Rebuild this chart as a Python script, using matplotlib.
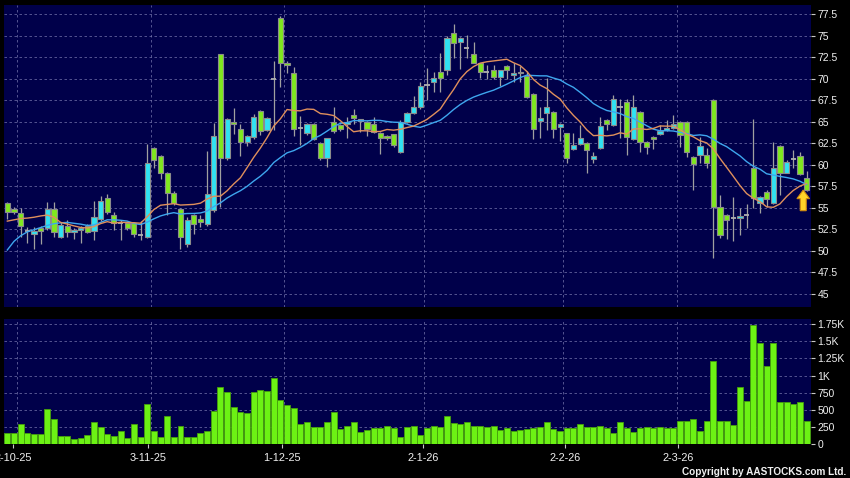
import matplotlib
matplotlib.use('Agg')
import matplotlib.pyplot as plt
import numpy as np
import pandas as pd
from matplotlib.patches import Polygon

plt.rcParams['font.family'] = ['Liberation Sans', 'DejaVu Sans']

# ---------------- data ----------------
opens = [55.6, 54.9, 54.35, 52.3, 51.95, 52.7, 52.6, 54.9, 51.6, 52.9,
         52.15, 52.4, 52.9, 52.35, 53.65, 56.1, 54.15, 53.2, 53.2, 53.2,
         51.8, 51.6, 61.9, 61.05, 59.0, 56.7, 54.9, 50.8, 54.15, 53.65,
         53.1, 54.74, 72.82, 60.74, 65.0, 64.1, 62.6, 63.25, 66.27, 64.03,
         70.0, 77.0, 71.84, 70.6, 64.3, 63.64, 64.69, 62.55, 60.74, 65.0,
         64.6, 64.7, 65.73, 65.11, 65.0, 64.72, 63.72, 63.37, 63.56, 61.5,
         65.0, 65.97, 66.66, 69.25, 69.57, 70.73, 71.0, 75.26, 74.21, 73.5,
         72.82, 71.77, 70.73, 71.0, 70.22, 71.5, 70.41, 70.6, 70.33, 68.21,
         65.11, 66.04, 66.1, 64.34, 63.64, 61.79, 62.37, 62.55, 60.66, 61.9,
         65.19, 64.6, 66.73, 67.24, 62.95, 66.1, 62.63, 63.25, 63.53, 64.03,
         64.22, 65.0, 65.0, 60.85, 61.12, 61.12, 67.5, 55.12, 54.15, 53.84,
         53.77, 54.2, 59.57, 55.5, 56.86, 55.5, 62.17, 59.07, 60.66, 61.0,
         58.42]
highs = [55.7, 55.1, 55.0, 52.8, 52.8, 52.9, 55.7, 55.7, 53.4, 53.6,
         52.7, 52.9, 53.1, 55.8, 56.35, 56.65, 54.5, 53.6, 53.3, 53.3,
         53.5, 62.4, 62.1, 61.1, 59.1, 56.9, 55.0, 53.9, 54.3, 54.15,
         61.6, 64.8, 72.9, 65.4, 66.55, 64.7, 63.4, 65.9, 66.4, 65.6,
         72.0, 77.3, 72.0, 71.3, 65.65, 64.8, 64.8, 62.6, 63.1, 66.73,
         64.7, 65.6, 66.43, 65.3, 65.1, 65.5, 63.8, 63.4, 63.6, 65.2,
         66.1, 67.98, 69.64, 71.2, 70.8, 72.94, 74.9, 76.34, 74.8, 75.06,
         74.3, 71.8, 71.58, 71.6, 71.0, 71.6, 71.77, 71.5, 70.9, 68.3,
         66.73, 70.1, 66.2, 64.8, 63.7, 63.64, 64.6, 62.6, 61.5, 65.57,
         65.3, 68.1, 67.6, 67.6, 68.1, 66.2, 62.7, 63.3, 64.6, 65.19,
         65.77, 65.1, 65.1, 61.0, 63.25, 61.9, 67.6, 56.48, 54.3, 56.28,
         54.93, 55.4, 65.3, 56.4, 57.1, 62.67, 62.3, 60.5, 61.7, 61.5,
         59.3]
lows = [53.7, 54.3, 51.6, 50.9, 50.2, 50.8, 52.4, 51.55, 51.5, 51.6,
        51.4, 50.9, 52.05, 51.2, 53.5, 54.3, 52.4, 51.3, 52.4, 51.55,
        51.3, 51.5, 59.6, 58.3, 54.2, 55.3, 50.2, 50.4, 51.95, 52.8,
        52.9, 54.5, 55.1, 60.6, 63.55, 61.05, 62.2, 63.0, 63.4, 63.9,
        64.0, 69.06, 70.7, 63.3, 62.28, 63.5, 62.9, 60.6, 59.77, 63.7,
        63.9, 63.06, 64.7, 63.83, 63.3, 63.7, 61.3, 62.9, 62.1, 61.4,
        64.9, 65.9, 66.5, 67.5, 68.48, 68.5, 70.4, 72.35, 71.08, 72.35,
        71.8, 70.03, 69.92, 70.0, 69.14, 70.0, 69.64, 69.64, 67.8, 62.95,
        63.06, 64.03, 63.06, 62.7, 60.15, 61.7, 62.3, 59.0, 60.2, 61.8,
        64.0, 64.5, 63.06, 61.1, 62.9, 61.5, 61.3, 61.8, 63.4, 63.9,
        64.1, 62.1, 60.85, 57.06, 60.15, 59.57, 49.13, 51.45, 51.33, 51.1,
        51.83, 52.6, 54.93, 54.35, 55.1, 55.4, 56.48, 59.0, 59.57, 58.8,
        57.0]
closes = [54.5, 54.5, 52.9, 52.3, 52.3, 52.3, 54.9, 52.2, 53.0, 52.15,
          52.4, 52.7, 52.2, 53.95, 55.8, 54.55, 53.2, 53.2, 52.7, 51.95,
          51.8, 60.15, 60.6, 59.0, 56.7, 55.5, 51.55, 53.57, 53.1, 53.4,
          56.6, 63.33, 60.74, 65.27, 64.7, 62.6, 63.33, 65.57, 63.9, 65.45,
          70.0, 71.77, 71.54, 64.1, 64.3, 64.69, 62.95, 60.74, 63.06, 63.95,
          64.1, 65.0, 65.39, 65.27, 64.2, 63.83, 63.06, 63.06, 62.28, 65.0,
          66.04, 66.73, 69.14, 69.25, 70.03, 70.03, 74.68, 74.1, 74.68, 73.5,
          71.84, 70.73, 70.73, 70.22, 71.0, 71.0, 70.68, 70.8, 67.82, 64.11,
          65.39, 66.66, 64.1, 64.72, 60.74, 62.25, 63.06, 61.7, 61.04, 64.53,
          64.69, 67.6, 66.73, 63.2, 66.66, 62.67, 62.08, 62.95, 63.91, 64.3,
          64.69, 63.5, 61.53, 60.08, 62.17, 60.15, 55.12, 51.83, 53.57, 53.84,
          54.04, 54.2, 56.1, 56.28, 55.98, 59.57, 59.07, 60.35, 60.66, 58.9,
          57.06]
volumes = [156, 166, 297, 156, 141, 141, 512, 365, 117, 117,
           73, 93, 132, 326, 244, 141, 117, 190, 83, 288,
           107, 585, 195, 97, 414, 97, 263, 107, 107, 166,
           195, 482, 838, 765, 536, 473, 453, 765, 785, 780,
           960, 643, 570, 531, 292, 317, 244, 249, 326, 463,
           219, 263, 326, 175, 205, 229, 234, 258, 234, 102,
           249, 258, 127, 229, 268, 244, 409, 312, 292, 317,
           263, 263, 253, 263, 205, 234, 195, 210, 214, 229,
           244, 326, 219, 195, 229, 229, 288, 249, 249, 263,
           229, 166, 322, 239, 180, 229, 253, 239, 249, 229,
           229, 336, 336, 361, 195, 336, 1213, 341, 336, 278,
           828, 633, 1740, 1481, 1145, 1472, 609, 609, 590, 609,
           341]
# moving-average values visible at the left edge (their windows start before the chart)
ma10_head = [53.45, 53.6, 53.75, 53.8, 53.9, 54.05, 54.15, 53.9, 53.3]
ma20_head = [50.1, 51.1, 51.75, 52.2, 52.45, 52.7, 52.95, 53.15, 53.25, 53.3,
             53.2, 53.1, 52.95, 53.0, 53.3, 53.6, 53.6, 53.55, 53.45]

date_tick_index = [2, 22, 42, 63, 84, 101]
date_tick_labels = ['2-10-25', '3-11-25', '1-12-25', '2-1-26', '2-2-26', '2-3-26']
price_ticks = [45, 47.5, 50, 52.5, 55, 57.5, 60, 62.5, 65, 67.5, 70, 72.5, 75, 77.5]
vol_ticks = [0, 250, 500, 750, 1000, 1250, 1500, 1750]
vol_tick_labels = ['0', '250', '500', '750', '1K', '1.25K', '1.5K', '1.75K']
copyright_text = 'Copyright by AASTOCKS.com Ltd.'

# ---------------- derived ----------------
n = len(closes)
x = np.arange(n)
o = np.array(opens); h = np.array(highs); l = np.array(lows); c = np.array(closes)
cs = pd.Series(closes)
ma10 = cs.rolling(10).mean().to_numpy()
ma10[:len(ma10_head)] = ma10_head
ma20 = cs.rolling(20).mean().to_numpy()
ma20[:len(ma20_head)] = ma20_head

BG = '#00004a'
CYAN = '#30e2f2'
GREEN = '#7fe81e'
VOLG = '#6cf214'
GRID = '#7a7ab0'
EDGE = '#8c8c8c'
TXT = '#f0f0f0'

W, H = 850, 478
fig = plt.figure(figsize=(8.5, 4.78), dpi=100, facecolor='black')
ax = fig.add_axes([4 / W, 1 - 307.3 / H, (810.7 - 4) / W, (307.3 - 5) / H])
axv = fig.add_axes([4 / W, 1 - 444 / H, (810.7 - 4) / W, (444 - 319) / H])

grid_x = [i - 0.5 for i in date_tick_index]
# label anchors sit slightly off the grid lines in the reference (layout offsets, in bars)
label_shift = [-0.65, -0.4, -0.25, -0.1, 0.2, 0.25]
label_x = [g + s for g, s in zip(grid_x, label_shift)]

gkw = dict(color=GRID, linestyle=(0, (3, 3)), linewidth=0.6, alpha=0.8, zorder=1)
for a in (ax, axv):
    a.set_facecolor(BG)
    for s in a.spines.values():
        s.set_visible(False)
    a.set_axisbelow(True)
    a.grid(True, axis='y', **{k: v for k, v in gkw.items() if k != 'zorder'})
    for gx in grid_x:
        a.axvline(gx, **gkw)
    a.set_xlim(-0.5, n - 0.38)

# candles
ax.vlines(x, l, h, color='#a0a0a0', linewidth=0.9, zorder=2)
up = c > o
dn = c < o
dj = c == o
bw = 0.78
ax.bar(x[up], (c - o)[up], bottom=o[up], width=bw, color=CYAN,
       edgecolor=EDGE, linewidth=0.8, zorder=3)
ax.bar(x[dn], (o - c)[dn], bottom=c[dn], width=bw, color=GREEN,
       edgecolor=EDGE, linewidth=0.8, zorder=3)
ax.hlines(c[dj], x[dj] - bw / 2, x[dj] + bw / 2, color='#b0b0b0', linewidth=1.3, zorder=3)

ax.plot(x, ma20, color='#3ea6ee', linewidth=1.0, zorder=4)
ax.plot(x, ma10, color='#e0905c', linewidth=1.0, zorder=4)

# arrow under the last candle
xa = n - 1.5
tip = closes[-1]
hw, sw, hl, L = 0.95, 0.45, 1.0, 2.4
arrow = Polygon([(xa, tip), (xa + hw, tip - hl), (xa + sw, tip - hl), (xa + sw, tip - L),
                 (xa - sw, tip - L), (xa - sw, tip - hl), (xa - hw, tip - hl)],
                closed=True, facecolor='#ffd428', edgecolor='#d08a10', linewidth=0.8, zorder=6)
ax.add_patch(arrow)

ax.set_ylim(43.44, 78.55)
ax.yaxis.tick_right()
ax.set_yticks(price_ticks)
ax.set_yticklabels([f'{v:g}' for v in price_ticks])
ax.set_xticks([])
ax.tick_params(axis='x', length=0, labelbottom=False)
ax.tick_params(axis='y', colors='#c8c8c8', labelcolor=TXT, labelsize=7.5,
               length=3, width=0.8, pad=2)

# volume
axv.bar(x, volumes, width=0.9, color=VOLG, edgecolor='#46a00c', linewidth=0.6, zorder=3)
axv.set_ylim(0, 1827)
axv.yaxis.tick_right()
axv.set_yticks(vol_ticks)
axv.set_yticklabels(vol_tick_labels)
axv.tick_params(axis='y', colors='#c8c8c8', labelcolor=TXT, labelsize=7.5,
                length=3, width=0.8, pad=2)
axv.set_xticks(label_x)
axv.set_xticklabels(date_tick_labels)
axv.tick_params(axis='x', colors='#c8c8c8', labelcolor=TXT, labelsize=7.8,
                length=3, width=0.8, pad=3.5)

fig.text(846 / W, 1 - 472 / H, copyright_text, ha='right', va='center',
         color=TXT, fontsize=7.2, fontweight='bold')

fig.savefig('out.png', dpi=100, facecolor='black')
